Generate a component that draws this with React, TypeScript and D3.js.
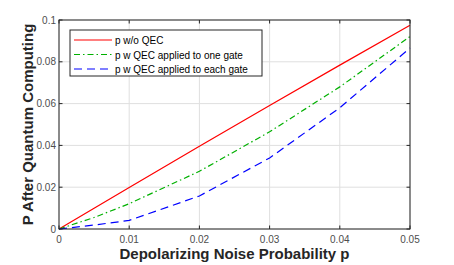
import * as d3 from "d3";

const xTicks = [0, 0.01, 0.02, 0.03, 0.04, 0.05];
const yTicks = [0, 0.02, 0.04, 0.06, 0.08, 0.1];
const pVals = [0, 0.005, 0.01, 0.02, 0.03, 0.04, 0.05];
const noQec = [0, 0.00998, 0.0199, 0.0396, 0.0591, 0.0784, 0.0975];
const qecOne = [0, 0.0055, 0.0121, 0.0276, 0.0465, 0.068, 0.0921];
const qecEach = [0, 0.0019, 0.0041, 0.0158, 0.034, 0.058, 0.0866];

const seriesNames = ["p w/o QEC", "p w QEC applied to one gate", "p w QEC applied to each gate"];
const seriesColors = ["#ff0000", "#00b000", "#0000ff"];
const seriesDash = ["", "6,3,1.5,3", "8,5"];

export default function App() {
  const W = 454, H = 265;
  const m = { l: 59, r: 44, t: 20, b: 36 };
  const x = d3.scaleLinear([0, 0.05], [m.l, W - m.r]);
  const y = d3.scaleLinear([0, 0.1], [H - m.b, m.t]);
  const all = [noQec, qecOne, qecEach];
  const line = d3.line<number>().x((_, i) => x(pVals[i])).y((d) => y(d));
  const font = "'Liberation Sans', Arial, sans-serif";
  return (
    <svg width={W} height={H} style={{ position: "absolute", left: 0, top: 0, background: "#fff" }} fontFamily={font}>
      {xTicks.map((t) => (
        <line key={"gx" + t} x1={x(t)} x2={x(t)} y1={m.t} y2={y(0)} stroke="#dfdfdf" />
      ))}
      {yTicks.map((t) => (
        <line key={"gy" + t} x1={m.l} x2={x(0.05)} y1={y(t)} y2={y(t)} stroke="#dfdfdf" />
      ))}
      {all.map((s, i) => (
        <path key={i} d={line(s)!} fill="none" stroke={seriesColors[i]} strokeWidth={1.2} strokeDasharray={seriesDash[i]} />
      ))}
      <rect x={m.l} y={m.t} width={x(0.05) - m.l} height={y(0) - m.t} fill="none" stroke="#262626" strokeWidth={1} />
      {xTicks.map((t) => (
        <g key={"tx" + t}>
          <line x1={x(t)} x2={x(t)} y1={y(0)} y2={y(0) - 3.5} stroke="#262626" />
          <line x1={x(t)} x2={x(t)} y1={m.t} y2={m.t + 3.5} stroke="#262626" />
          <text x={x(t)} y={y(0) + 14} textAnchor="middle" fontSize={10} fill="#4d4d4d">{String(t)}</text>
        </g>
      ))}
      {yTicks.map((t) => (
        <g key={"ty" + t}>
          <line x1={m.l} x2={m.l + 3.5} y1={y(t)} y2={y(t)} stroke="#262626" />
          <line x1={x(0.05)} x2={x(0.05) - 3.5} y1={y(t)} y2={y(t)} stroke="#262626" />
          <text x={m.l - 3} y={y(t) + 3.5} textAnchor="end" fontSize={10} fill="#4d4d4d">{String(t)}</text>
        </g>
      ))}
      <text x={(m.l + x(0.05)) / 2} y={259} textAnchor="middle" fontSize={15} fontWeight="bold" fill="#262626">
        Depolarizing Noise Probability p
      </text>
      <text transform={`translate(33,${(m.t + y(0)) / 2}) rotate(-90)`} textAnchor="middle" fontSize={15} fontWeight="bold" fill="#262626">
        P After Quantum Computing
      </text>
      <g>
        <rect x={70} y={30} width={192} height={46} fill="#fff" stroke="#262626" strokeWidth={1} />
        {seriesNames.map((n, i) => (
          <g key={n}>
            <line x1={74} x2={112} y1={40 + i * 14.5} y2={40 + i * 14.5} stroke={seriesColors[i]} strokeWidth={1.2} strokeDasharray={seriesDash[i]} />
            <text x={115} y={44 + i * 14.5} fontSize={10} fill="#000">{n}</text>
          </g>
        ))}
      </g>
    </svg>
  );
}
